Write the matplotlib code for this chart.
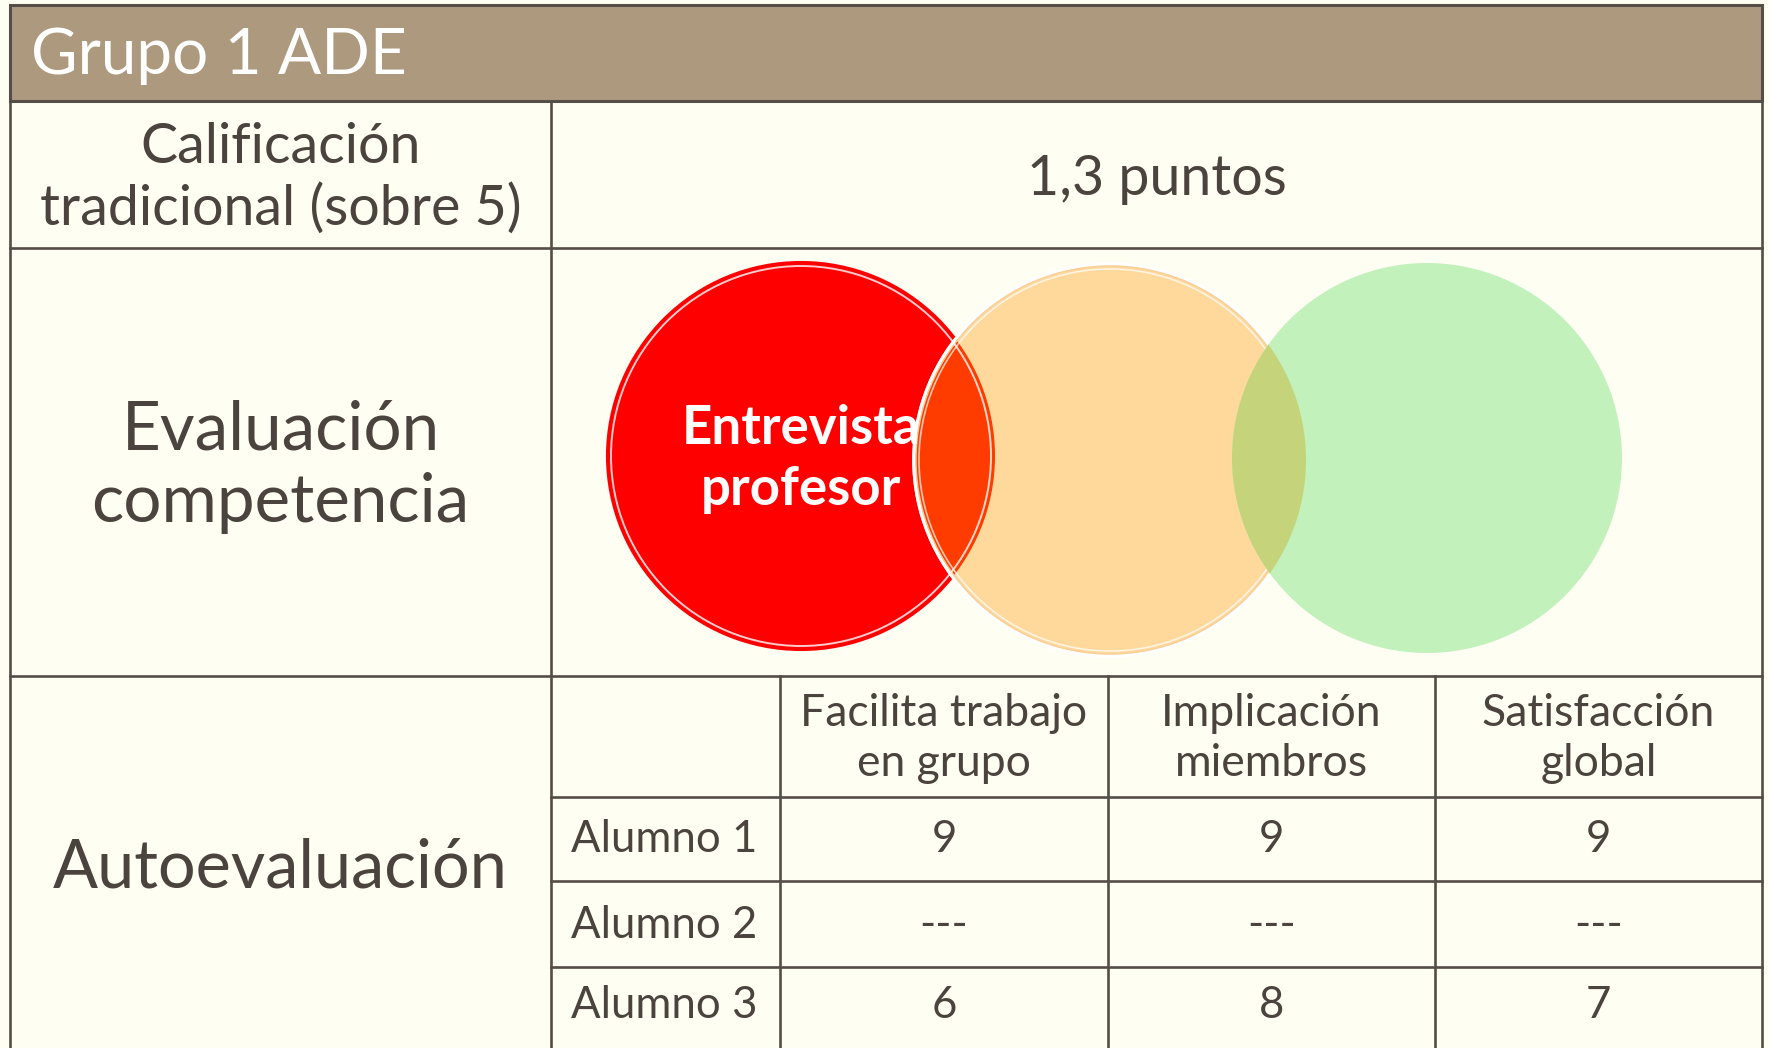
import matplotlib.pyplot as plt
from matplotlib.patches import Circle, Rectangle

plt.rcParams['font.family'] = ['Lato', 'DejaVu Sans']

# datos
titulo = 'Grupo 1 ADE'
filas = ['Calificación\ntradicional (sobre 5)', 'Evaluación\ncompetencia', 'Autoevaluación']
nota_tradicional = '1,3 puntos'
circulos = ['Entrevista\nprofesor', '', '']
criterios = ['Facilita trabajo\nen grupo', 'Implicación\nmiembros', 'Satisfacción\nglobal']
alumnos = ['Alumno 1', 'Alumno 2', 'Alumno 3']
notas = [[9, 9, 9],
         [None, None, None],
         [6, 8, 7]]

# colores
fondo = '#FFFEF3'
cabecera = '#AD9A7E'
texto = '#4B433D'
linea = '#554D47'
c_rojo = '#FF0000'
c_naranja = '#FFD89C'
c_verde = '#C2F1BB'
c_rojo_naranja = '#FF3C00'
c_naranja_verde = '#C5D47A'

W, H = 1769, 1048
fig = plt.figure(figsize=(W / 100, H / 100), dpi=100, facecolor=fondo)
ax = fig.add_axes([0, 0, 1, 1])
ax.set_xlim(0, W)
ax.set_ylim(H, 0)
ax.axis('off')

# rejilla (px)
xl, xd, xr = 10, 551, 1762
xc = [xd, 780, 1108, 1435, xr]
yt, yh, y1, y2 = 5, 101, 248, 676
yf = [y2, 797, 881, 967, H]

ax.add_patch(Rectangle((xl, yt), xr - xl, yh - yt, fc=cabecera, ec=linea, lw=2.2, zorder=1))
ax.text(31, (yt + yh) / 2 + 3, titulo, color='white', fontsize=46, va='center', ha='left')

lw = 1.9
for y in [yh, y1, y2]:
    ax.plot([xl, xr], [y, y], color=linea, lw=lw, zorder=5)
for y in yf[1:4]:
    ax.plot([xd, xr], [y, y], color=linea, lw=lw, zorder=5)
ax.plot([xl, xl], [yh, H], color=linea, lw=lw, zorder=5)
ax.plot([xr, xr], [yt, H], color=linea, lw=lw, zorder=5)
ax.plot([xd, xd], [yh, H], color=linea, lw=lw, zorder=5)
for x in xc[1:4]:
    ax.plot([x, x], [y2, H], color=linea, lw=lw, zorder=5)

# columna izquierda
ycen = [(yh + y1) / 2 + 4, (y1 + y2) / 2 + 5, 869]
tam = [40, 48.5, 48]
for lab, y, s in zip(filas, ycen, tam):
    ax.text((xl + xd) / 2, y, lab, color=texto, fontsize=s, ha='center', va='center', linespacing=1.22)

ax.text((xd + xr) / 2, (yh + y1) / 2 + 5, nota_tradicional, color=texto, fontsize=40, ha='center', va='center')

# circulos
centros = [(801, 456), (1110, 460), (1427, 458)]
radios = [194, 196, 195]

rojo = Circle(centros[0], radios[0], fc=c_rojo, ec=c_rojo, lw=1.5, zorder=2)
ax.add_patch(rojo)
naranja = Circle(centros[1], radios[1], fc=c_naranja, ec='white', lw=2.5, zorder=3)
ax.add_patch(naranja)
lente1 = Circle(centros[1], radios[1], fc=c_rojo_naranja, ec='white', lw=2.5, zorder=3.2)
ax.add_patch(lente1)
lente1.set_clip_path(rojo)
ax.add_patch(Circle(centros[0], radios[0] - 4, fill=False, ec='white', lw=1.4, alpha=0.8, zorder=3.4))
ax.add_patch(Circle(centros[1], radios[1] - 2, fill=False, ec='#F9CF95', lw=1.0, zorder=3.3))
ax.add_patch(Circle(centros[1], radios[1] - 5, fill=False, ec='white', lw=1.2, alpha=0.7, zorder=3.4))

verde = Circle(centros[2], radios[2], fc=c_verde, ec='none', zorder=4)
ax.add_patch(verde)
lente2 = Circle(centros[2], radios[2], fc=c_naranja_verde, ec='none', zorder=4.2)
ax.add_patch(lente2)
lente2.set_clip_path(naranja)

for (cx, cy), lab in zip(centros, circulos):
    if lab:
        ax.text(cx, cy + 3, lab, color='white', fontsize=38, fontweight='bold', ha='center', va='center',
                linespacing=1.3, zorder=6)

# autoevaluacion
for j, crit in enumerate(criterios):
    ax.text((xc[j + 1] + xc[j + 2]) / 2, (yf[0] + yf[1]) / 2 + 2, crit, color=texto, fontsize=32,
            ha='center', va='center', linespacing=1.3)
for i, al in enumerate(alumnos):
    yy = (yf[i + 1] + yf[i + 2]) / 2 + 1
    if i == 2:
        yy = 1005
    ax.text(571, yy, al, color=texto, fontsize=31.5, ha='left', va='center')
    for j, v in enumerate(notas[i]):
        ax.text((xc[j + 1] + xc[j + 2]) / 2, yy, '---' if v is None else str(v), color=texto, fontsize=31.5,
                ha='center', va='center')

fig.savefig('out.png', dpi=100, facecolor=fondo)
